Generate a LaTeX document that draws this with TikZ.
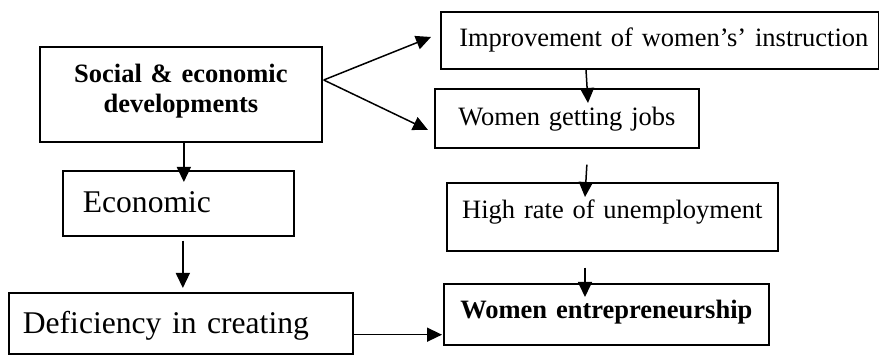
\documentclass[tikz,border=0pt]{standalone}
\usepackage{fontspec}
\setmainfont{Liberation Serif}
\usetikzlibrary{arrows.meta,calc}
\begin{document}
\begin{tikzpicture}[x=1pt,y=-1pt,
  box/.style={draw, line width=1.7pt, inner sep=0pt, anchor=north west},
  normal/.style={font=\fontsize{26.5}{30}\selectfont},
  boldtxt/.style={font=\fontsize{26.5}{30}\selectfont\bfseries},
  big/.style={font=\fontsize{31.6}{36}\selectfont},
  arr/.style={line width=1.5pt, -{Triangle[length=15pt,width=14pt]}}]
\useasboundingbox (0,0) rectangle (879,355);
% boxes
\node[box, boldtxt, text width=282pt, align=center, text height=36pt, text depth=59pt] (soc) at (39,46) {Social \& economic\\developments};
\node[box, big, text width=231pt, align=left, text height=42pt, text depth=23pt] (econ) at (62,170) {\hspace*{20pt}Economic};
\node[box, big, text width=344pt, align=left, text height=41pt, text depth=20pt] (def) at (8,292) {\hspace*{14pt}Deficiency in creating};
\node[box, normal, text width=438pt, align=center, text height=34.7pt, text depth=22.3pt] (imp) at (440,11) {\hspace*{8pt}Improvement of women’s’ instruction};
\node[box, normal, text width=264pt, align=center, text height=37pt, text depth=22pt] (wj) at (434,88) {Women getting jobs};
\node[box, normal, text width=331pt, align=center, text height=36pt, text depth=32pt] (hr) at (446,182) {High rate of unemployment};
\node[box, boldtxt, text width=325pt, align=center, text height=35pt, text depth=26pt] (we) at (443,283) {Women entrepreneurship};
% connectors
\draw[arr] ($(soc.south)+(3,0)$) -- ($(soc.south |- econ.north)+(3,12)$);
\draw[arr] ($(econ.south)+(4.5,4)$) -- ($(econ.south |- def.north)+(4.5,-4)$);
\draw[arr] ($(def.south east)+(0,-20)$) -- ($(def.south east -| we.west)+(-1,-20)$);
\draw[arr] ($(soc.north east)+(1,34)$) -- ($(imp.north west)+(-9,26)$);
\draw[arr] ($(soc.north east)+(1,34)$) -- ($(wj.north west)+(-6,42)$);
\draw[arr] ($(imp.south west)+(146,0)$) -- ($(wj.north west)+(154,15)$);
\draw[arr] ($(wj.south)+(20,16)$) -- ($(hr.north west)+(139,15)$);
\draw[arr] ($(hr.south west)+(139,16)$) -- ($(we.north west)+(142,14)$);
\end{tikzpicture}
\end{document}
